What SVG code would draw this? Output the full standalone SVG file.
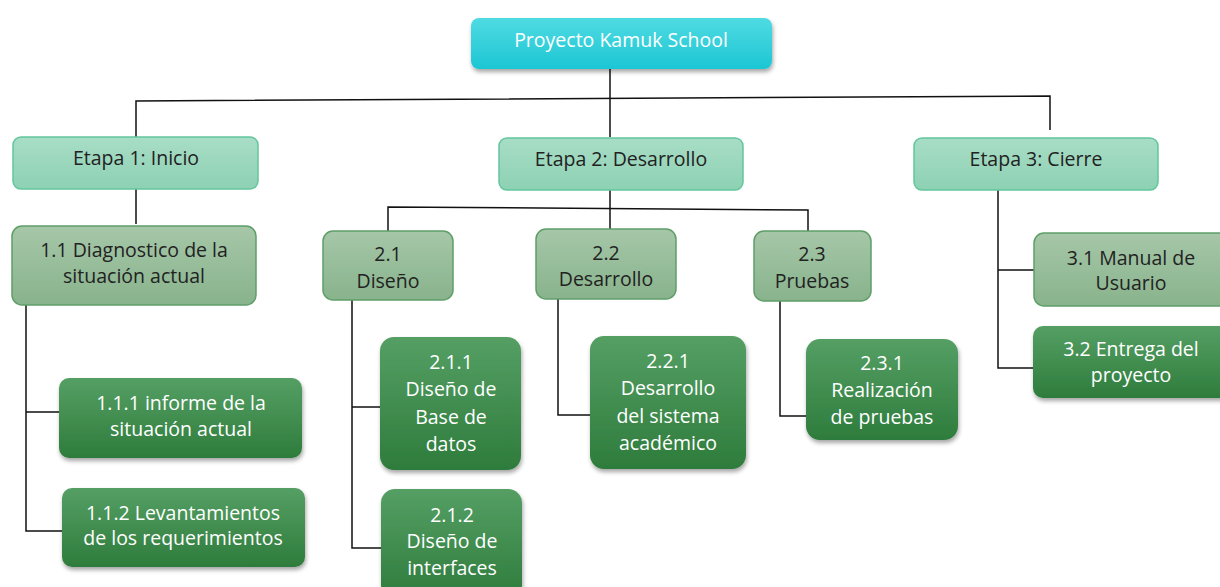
<svg xmlns="http://www.w3.org/2000/svg" width="1220" height="587" viewBox="0 0 1220 587">
<defs>
<linearGradient id="gRoot" x1="0" y1="0" x2="0" y2="1"><stop offset="0" stop-color="#4fdbe2"/><stop offset="1" stop-color="#1cc6d4"/></linearGradient>
<linearGradient id="gEtapa" x1="0" y1="0" x2="0" y2="1"><stop offset="0" stop-color="#a8ddc6"/><stop offset="1" stop-color="#8dd1b3"/></linearGradient>
<linearGradient id="gMid" x1="0" y1="0" x2="0" y2="1"><stop offset="0" stop-color="#a6c7a8"/><stop offset="1" stop-color="#88b38c"/></linearGradient>
<linearGradient id="gDark" x1="0" y1="0" x2="0" y2="1"><stop offset="0" stop-color="#559f64"/><stop offset="1" stop-color="#2e7c3c"/></linearGradient>
<filter id="sh" x="-10%" y="-10%" width="125%" height="135%"><feDropShadow dx="1" dy="3" stdDeviation="2" flood-color="#000" flood-opacity="0.35"/></filter>
</defs>
<style>
text{font-family:"Open Sans","Noto Sans",sans-serif;font-size:19.5px;text-anchor:middle}
.root rect{fill:url(#gRoot);filter:url(#sh)}
.root text{fill:#fff}
.etapa rect{fill:url(#gEtapa);stroke:#62c69d;stroke-width:1.5}
.etapa text{fill:#222}
.mid rect{fill:url(#gMid);stroke:#5e9f68;stroke-width:1.5}
.mid text{fill:#222}
.dark rect{fill:url(#gDark);filter:url(#sh)}
.dark text{fill:#fff}
#connectors path{fill:none;stroke:#111;stroke-width:1.5}
</style>
<g id="connectors">
<path d="M610 62 V137"/>
<path d="M136 137 V101 L1050 96 V130"/>
<path d="M136 189 V224"/>
<path d="M26 305 V531 H62 M26 412 H60"/>
<path d="M610 190 V229"/>
<path d="M388 232 V207 L808 210 V232"/>
<path d="M352 300 V548 H381 M352 407 H380"/>
<path d="M558 299 V415 H590"/>
<path d="M780 301 V416 H806"/>
<path d="M998 190 V368 H1034 M998 270 H1035"/>
</g>
<g id="root" class="root"><rect x="471" y="18" width="301" height="51" rx="8"/><text x="621" y="47">Proyecto Kamuk School</text></g>
<g id="etapa1" class="etapa"><rect x="13" y="137" width="245" height="52" rx="8"/><text x="136" y="165">Etapa 1: Inicio</text></g>
<g id="etapa2" class="etapa"><rect x="499" y="138" width="244" height="52" rx="8"/><text x="621" y="166">Etapa 2: Desarrollo</text></g>
<g id="etapa3" class="etapa"><rect x="914" y="138" width="244" height="52" rx="8"/><text x="1036" y="166">Etapa 3: Cierre</text></g>
<g id="n1_1" class="mid"><rect x="12" y="226" width="244" height="79" rx="10"/><text x="134" y="257">1.1 Diagnostico de la</text><text x="134" y="283">situación actual</text></g>
<g id="n1_1_1" class="dark"><rect x="59" y="378" width="243" height="80" rx="10"/><text x="181" y="410">1.1.1 informe de la</text><text x="181" y="436">situación actual</text></g>
<g id="n1_1_2" class="dark"><rect x="62" y="488" width="243" height="79" rx="10"/><text x="183" y="520">1.1.2 Levantamientos</text><text x="183" y="545">de los requerimientos</text></g>
<g id="n2_1" class="mid"><rect x="323" y="231" width="130" height="69" rx="10"/><text x="388" y="261">2.1</text><text x="388" y="288">Diseño</text></g>
<g id="n2_2" class="mid"><rect x="536" y="229" width="140" height="70" rx="10"/><text x="606" y="260">2.2</text><text x="606" y="286">Desarrollo</text></g>
<g id="n2_3" class="mid"><rect x="754" y="231" width="117" height="70" rx="10"/><text x="812" y="261">2.3</text><text x="812" y="288">Pruebas</text></g>
<g id="n2_1_1" class="dark"><rect x="380" y="337" width="141" height="133" rx="14"/><text x="451" y="369">2.1.1</text><text x="451" y="396">Diseño de</text><text x="451" y="424">Base de</text><text x="451" y="451">datos</text></g>
<g id="n2_1_2" class="dark"><rect x="381" y="489" width="141" height="110" rx="14"/><text x="452" y="522">2.1.2</text><text x="452" y="548">Diseño de</text><text x="452" y="575">interfaces</text></g>
<g id="n2_2_1" class="dark"><rect x="590" y="336" width="156" height="133" rx="14"/><text x="668" y="368">2.2.1</text><text x="668" y="395">Desarrollo</text><text x="668" y="423">del sistema</text><text x="668" y="450">académico</text></g>
<g id="n2_3_1" class="dark"><rect x="806" y="339" width="152" height="101" rx="14"/><text x="882" y="370">2.3.1</text><text x="882" y="397">Realización</text><text x="882" y="424">de pruebas</text></g>
<g id="n3_1" class="mid"><rect x="1034" y="233" width="196" height="73" rx="10"/><text x="1131" y="265">3.1 Manual de</text><text x="1131" y="290">Usuario</text></g>
<g id="n3_2" class="dark"><rect x="1033" y="326" width="197" height="72" rx="10"/><text x="1131" y="356">3.2 Entrega del</text><text x="1131" y="382">proyecto</text></g>
</svg>
